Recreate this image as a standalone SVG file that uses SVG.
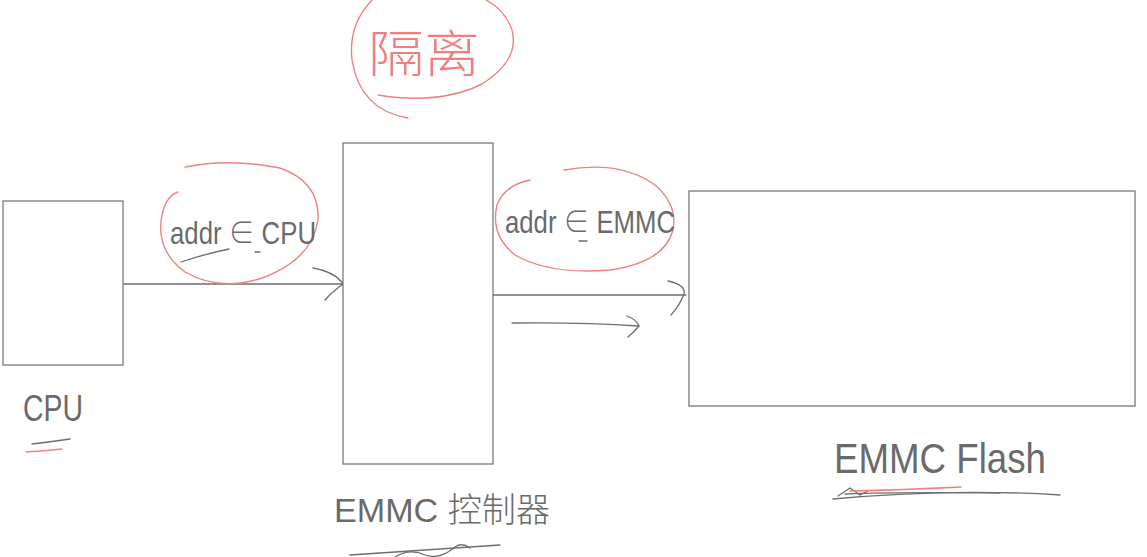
<svg xmlns="http://www.w3.org/2000/svg" width="1147" height="557" viewBox="0 0 1147 557">
<style>
.box{fill:#fff;stroke:#6e6e6e;stroke-width:1.2}
.ln{fill:none;stroke:#6e6e6e;stroke-width:1.3;stroke-linecap:round;stroke-linejoin:round}
.red{fill:none;stroke:#f08080;stroke-width:1.4;stroke-linecap:round}
.t{font-family:"Liberation Sans","Noto Sans CJK SC",sans-serif;fill:#6a6a6a;font-weight:300}
.tr{font-family:"Noto Sans CJK SC",sans-serif;fill:#f08080;font-weight:300}
</style>
<rect width="1147" height="557" fill="#fff"/>
<g id="connectors">
<path class="ln" d="M123 284 H343"/>
<path class="ln" d="M313 268 Q335 272 343 284 Q332 292 325 300"/>
<path class="ln" d="M493 295 H686"/>
<path class="ln" d="M668 281 Q686 285 684 294 Q680 305 671 315"/>
<path class="ln" d="M512 323 Q580 322 639 326"/>
<path class="ln" d="M627 316 Q637 320 639 326 Q634 332 628 337"/>
</g>
<g id="cpu">
<rect class="box" x="3" y="201" width="120" height="164"/>
<text class="t" x="23" y="421" font-size="36" textLength="60" lengthAdjust="spacingAndGlyphs">CPU</text>
<path class="ln" d="M32 444 Q50 442 70 439"/>
<path class="red" d="M26 452 Q45 451 62 449"/>
</g>
<g id="emmc-controller">
<rect class="box" x="343" y="143" width="150" height="321"/>
<text class="t" x="334" y="522" font-size="34" textLength="216" lengthAdjust="spacingAndGlyphs">EMMC 控制器</text>
<path class="ln" d="M350 555 L500 545"/>
<path class="ln" d="M395 557 Q410 548 425 555 Q440 560 455 547 Q462 542 470 548"/>
</g>
<g id="emmc-flash">
<rect class="box" x="689" y="191" width="446" height="215"/>
<text class="t" x="834" y="473" font-size="42" textLength="212" lengthAdjust="spacingAndGlyphs">EMMC Flash</text>
<path class="ln" d="M833 499 Q950 488 1060 495"/>
<path class="ln" d="M845 494 Q900 492 1000 493"/>
<path class="ln" d="M838 496 L850 488 L860 495 L868 491"/>
<path class="red" d="M850 491 Q900 490 961 487"/>
</g>
<g id="label-isolation">
<path class="red" d="M408 118 Q360 110 352 60 Q348 25 372 0"/>
<path class="red" d="M378 95 Q440 105 482 84 Q520 60 512 30 Q505 10 486 0"/>
<text class="tr" x="368" y="72" font-size="50" textLength="112" lengthAdjust="spacingAndGlyphs">隔离</text>
</g>
<g id="label-addr-cpu">
<path class="red" d="M185 167 Q230 158 280 168 Q320 182 318 220 Q312 260 262 278 Q220 292 185 272 Q155 250 162 215 Q166 196 178 192"/>
<text class="t" x="170" y="244" font-size="32" textLength="146" lengthAdjust="spacingAndGlyphs">addr ∈ CPU</text>
<path class="ln" d="M181 262 Q205 254 229 249"/>
<path class="ln" d="M255 252 L260 252"/>
</g>
<g id="label-addr-emmc">
<path class="red" d="M564 170 Q620 160 655 185 Q678 205 673 230 Q665 262 610 270 Q550 275 515 255 Q490 235 497 205 Q505 185 530 180"/>
<text class="t" x="505" y="233" font-size="32" textLength="170" lengthAdjust="spacingAndGlyphs">addr ∈ EMMC</text>
<path class="ln" d="M579 241 L587 241"/>
</g>
</svg>
